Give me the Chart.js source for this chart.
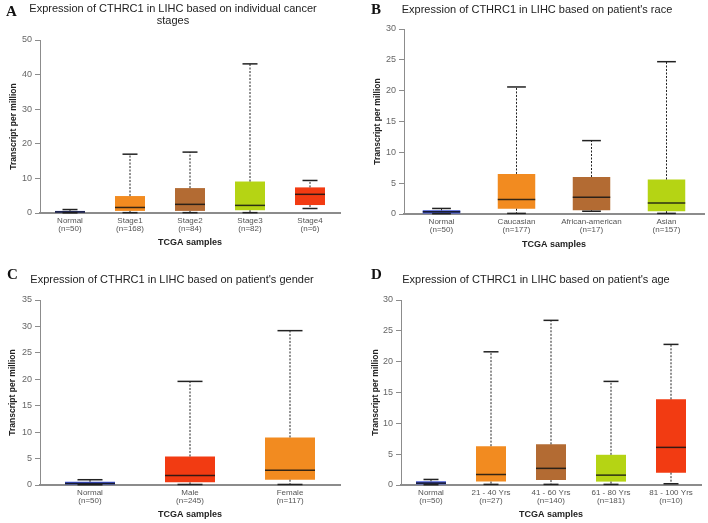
<!DOCTYPE html>
<html>
<head>
<meta charset="utf-8">
<script src="https://cdn.jsdelivr.net/npm/chart.js@4.4.1/dist/chart.umd.min.js"></script>
<style>
body { margin: 0; background: #fff; width: 708px; height: 523px; position: relative; overflow: hidden; }
.panel { position: absolute; width: 354px; }
.letter { position: absolute; font-family: "Liberation Serif", serif; font-weight: bold; font-size: 15px; line-height: 14px; color: #111; }
</style>
</head>
<body>
<div class="panel" style="left:0;top:0;height:262px"><canvas id="chartA" width="354" height="262"></canvas></div>
<div class="panel" style="left:354px;top:0;height:262px"><canvas id="chartB" width="354" height="262"></canvas></div>
<div class="panel" style="left:0;top:262px;height:261px"><canvas id="chartC" width="354" height="261"></canvas></div>
<div class="panel" style="left:354px;top:262px;height:261px"><canvas id="chartD" width="354" height="261"></canvas></div>
<div class="letter" style="left:6px;top:4px">A</div>
<div class="letter" style="left:371px;top:2px">B</div>
<div class="letter" style="left:7px;top:267px">C</div>
<div class="letter" style="left:371px;top:267px">D</div>
<script>
// A - cancer stages
const stageNames = ['Normal', 'Stage1', 'Stage2', 'Stage3', 'Stage4'];
const stageCounts = [50, 168, 84, 82, 6];
const stageMin = [0.05, 0.1, 0.1, 0.1, 1.3];
const stageQ1 = [0.1, 0.6, 0.6, 0.8, 2.3];
const stageMedian = [0.3, 1.6, 2.5, 2.2, 5.4];
const stageQ3 = [0.6, 4.9, 7.2, 9.1, 7.4];
const stageMax = [1.0, 17.0, 17.6, 43.1, 9.4];

// B - race
const raceNames = ['Normal', 'Caucasian', 'African-american', 'Asian'];
const raceCounts = [50, 177, 17, 157];
const raceMin = [0.05, 0.1, 0.45, 0.1];
const raceQ1 = [0.1, 0.85, 0.6, 0.45];
const raceMedian = [0.35, 2.35, 2.7, 1.8];
const raceQ3 = [0.6, 6.5, 6.0, 5.6];
const raceMax = [0.9, 20.6, 11.9, 24.7];

// C - gender
const genderNames = ['Normal', 'Male', 'Female'];
const genderCounts = [50, 245, 117];
const genderMin = [0.05, 0.1, 0.1];
const genderQ1 = [0.1, 0.5, 1.0];
const genderMedian = [0.3, 1.8, 2.8];
const genderQ3 = [0.6, 5.4, 9.0];
const genderMax = [1.0, 19.6, 29.2];

// D - age
const ageNames = ['Normal', '21 - 40 Yrs', '41 - 60 Yrs', '61 - 80 Yrs', '81 - 100 Yrs'];
const ageCounts = [50, 27, 140, 181, 10];
const ageMin = [0.05, 0.1, 0.1, 0.1, 0.2];
const ageQ1 = [0.1, 0.55, 0.8, 0.55, 2.0];
const ageMedian = [0.3, 1.7, 2.7, 1.6, 6.1];
const ageQ3 = [0.6, 6.3, 6.6, 4.9, 13.9];
const ageMax = [0.9, 21.6, 26.7, 16.8, 22.8];

const BLUE = '#3b4fd1', ORANGE = '#f28b20', BROWN = '#b36b33', GREEN = '#b5d414', RED = '#f23b12';

// draws whiskers, caps and median on top of the floating q1-q3 bars
const boxWhiskers = {
  id: 'boxWhiskers',
  afterDatasetsDraw(chart) {
    const ctx = chart.ctx;
    const y = chart.scales.y;
    const s = chart.data.datasets[0].stats;
    const line = (x1, y1, x2, y2) => { ctx.beginPath(); ctx.moveTo(x1, y1); ctx.lineTo(x2, y2); ctx.stroke(); };
    chart.getDatasetMeta(0).data.forEach((bar, i) => {
      const half = bar.width / 2;
      const yMin = y.getPixelForValue(s.min[i]);
      const yQ1 = y.getPixelForValue(s.q1[i]);
      const yMed = y.getPixelForValue(s.median[i]);
      const yQ3 = y.getPixelForValue(s.q3[i]);
      const yMax = y.getPixelForValue(s.max[i]);
      ctx.save();
      ctx.strokeStyle = '#222';
      ctx.lineWidth = 1;
      ctx.setLineDash([2, 1.5]);
      line(bar.x, yQ3, bar.x, yMax);
      line(bar.x, yQ1, bar.x, yMin);
      ctx.setLineDash([]);
      ctx.lineWidth = 1.5;
      line(bar.x - half / 2, yMax, bar.x + half / 2, yMax);
      line(bar.x - half / 2, yMin, bar.x + half / 2, yMin);
      ctx.strokeStyle = 'rgba(20,20,20,0.85)';
      line(bar.x - half, yMed, bar.x + half, yMed);
      ctx.restore();
    });
  }
};

function makeChart(id, p) {
  const W = 354, H = p.height;
  const labels = p.names.map((n, i) => [n, '(n=' + p.counts[i] + ')']);
  new Chart(document.getElementById(id).getContext('2d'), {
    type: 'bar',
    data: {
      labels: labels,
      datasets: [{
        data: p.q1.map((v, i) => [v, p.q3[i]]),
        backgroundColor: p.colors,
        borderWidth: 0,
        borderSkipped: false,
        barPercentage: 0.5,
        categoryPercentage: 1,
        stats: { min: p.min, q1: p.q1, median: p.median, q3: p.q3, max: p.max }
      }]
    },
    options: {
      responsive: false,
      animation: false,
      layout: { padding: { left: p.padLeft, right: W - p.right, top: 0, bottom: 0 } },
      plugins: {
        legend: { display: false },
        tooltip: { enabled: false },
        title: {
          display: true,
          text: p.title,
          color: '#222',
          font: { family: 'Liberation Sans, Arial, sans-serif', size: 11, weight: 'normal', lineHeight: '12px' },
          padding: { top: p.titleTop, bottom: p.titleBottom }
        }
      },
      scales: {
        x: {
          grid: { display: false, drawTicks: false },
          border: { display: true, color: '#8c8c8c', width: 2 },
          ticks: { color: '#555', font: { family: 'Liberation Sans, Arial, sans-serif', size: 8, lineHeight: 1 }, padding: 4, maxRotation: 0, autoSkip: false },
          title: {
            display: true, text: 'TCGA samples', color: '#222',
            font: { family: 'Liberation Sans, Arial, sans-serif', size: 9, weight: 'bold', lineHeight: 1.2 },
            padding: { top: 0, bottom: H - p.xTitleY - 5.4 }
          },
          afterFit: s => { s.height = H - p.bottom; }
        },
        y: {
          min: 0, max: p.yMax,
          ticks: { stepSize: p.step, color: '#666', font: { family: 'Liberation Sans, Arial, sans-serif', size: 9 }, padding: 3 },
          grid: { drawOnChartArea: false, drawTicks: true, tickLength: 5, color: '#8c8c8c' },
          border: { display: true, color: '#8c8c8c', width: 1 },
          title: {
            display: true, text: 'Transcript per million', color: '#222',
            font: { family: 'Liberation Sans, Arial, sans-serif', size: 8.5, weight: 'bold', lineHeight: 1.2 },
            padding: { top: Math.max(0, p.yTitleX - p.padLeft - 5.1), bottom: 0 }
          },
          afterFit: s => { s.width = p.left - p.padLeft; }
        }
      }
    },
    plugins: [boxWhiskers]
  });
}

makeChart('chartA', {
  height: 262, padLeft: 6, left: 40, right: 340, bottom: 213, titleTop: 3, titleBottom: 13,
  xTitleY: 243, yTitleX: 14, yMax: 50, step: 10,
  title: ['Expression of CTHRC1 in LIHC based on individual cancer', 'stages'],
  names: stageNames, counts: stageCounts, min: stageMin, q1: stageQ1, median: stageMedian, q3: stageQ3, max: stageMax,
  colors: [BLUE, ORANGE, BROWN, GREEN, RED]
});
makeChart('chartB', {
  height: 262, padLeft: 16, left: 50, right: 350, bottom: 214, titleTop: 4, titleBottom: 13,
  xTitleY: 245, yTitleX: 24, yMax: 30, step: 5,
  title: "Expression of CTHRC1 in LIHC based on patient's race",
  names: raceNames, counts: raceCounts, min: raceMin, q1: raceQ1, median: raceMedian, q3: raceQ3, max: raceMax,
  colors: [BLUE, ORANGE, BROWN, GREEN]
});
makeChart('chartC', {
  height: 261, padLeft: 4, left: 40, right: 340, bottom: 223, titleTop: 12, titleBottom: 14,
  xTitleY: 253, yTitleX: 13, yMax: 35, step: 5,
  title: "Expression of CTHRC1 in LIHC based on patient's gender",
  names: genderNames, counts: genderCounts, min: genderMin, q1: genderQ1, median: genderMedian, q3: genderQ3, max: genderMax,
  colors: [BLUE, RED, ORANGE]
});
makeChart('chartD', {
  height: 261, padLeft: 17, left: 47, right: 347, bottom: 223, titleTop: 12, titleBottom: 14,
  xTitleY: 253, yTitleX: 22, yMax: 30, step: 5,
  title: "Expression of CTHRC1 in LIHC based on patient's age",
  names: ageNames, counts: ageCounts, min: ageMin, q1: ageQ1, median: ageMedian, q3: ageQ3, max: ageMax,
  colors: [BLUE, ORANGE, BROWN, GREEN, RED]
});
</script>
</body>
</html>
